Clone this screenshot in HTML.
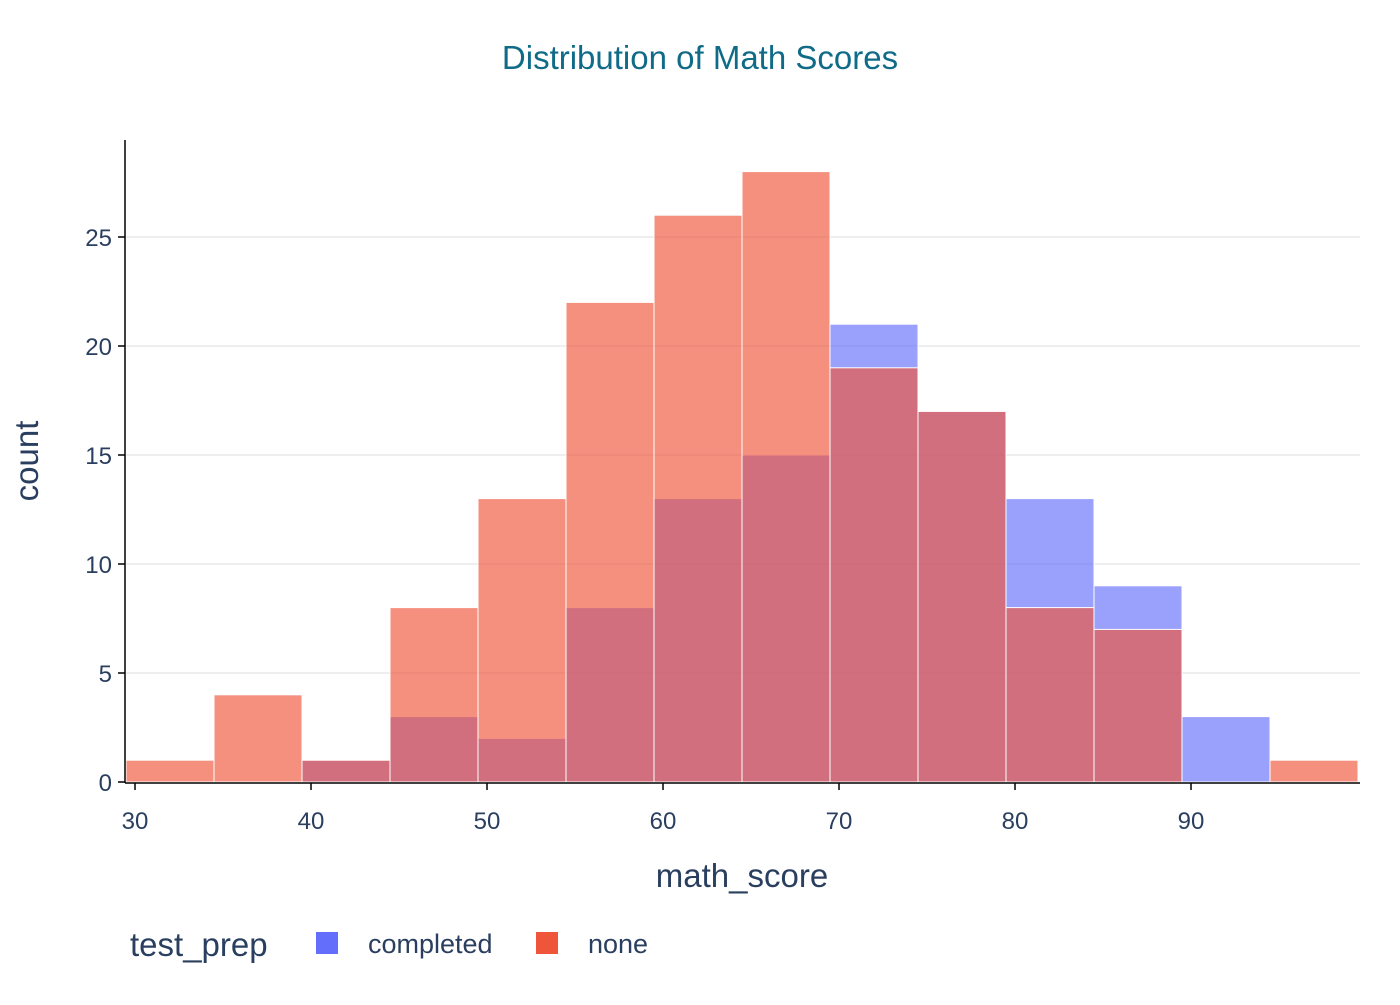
<!DOCTYPE html>
<html><head><meta charset="utf-8"><style>
html,body{margin:0;padding:0;background:#fff;}
svg text{font-family:"Liberation Sans",Arial,sans-serif;fill:#2a3f5f;}
</style></head><body>
<svg width="1400" height="1000" viewBox="0 0 1400 1000" xmlns="http://www.w3.org/2000/svg">
<rect width="1400" height="1000" fill="#fff"/>
<text x="700" y="69" text-anchor="middle" font-size="33" style="fill:#0f6b87">Distribution of Math Scores</text>
<g stroke="#e6e8ec" stroke-width="1.5">
<line x1="126" x2="1360" y1="673" y2="673"/>
<line x1="126" x2="1360" y1="564" y2="564"/>
<line x1="126" x2="1360" y1="455" y2="455"/>
<line x1="126" x2="1360" y1="346" y2="346"/>
<line x1="126" x2="1360" y1="237" y2="237"/>
</g>
<g id="bars" stroke="#fff" stroke-width="1"></g>
<line x1="125" x2="125" y1="140" y2="783" stroke="#000" stroke-width="1.5"/>
<line x1="125" x2="1360" y1="783" y2="783" stroke="#000" stroke-width="1.5"/>
<g stroke="#000" stroke-width="1.5">
<line x1="118" x2="125" y1="782" y2="782"/><line x1="118" x2="125" y1="673" y2="673"/><line x1="118" x2="125" y1="564" y2="564"/><line x1="118" x2="125" y1="455" y2="455"/><line x1="118" x2="125" y1="346" y2="346"/><line x1="118" x2="125" y1="237" y2="237"/>
<line x1="135" x2="135" y1="783" y2="790"/><line x1="311" x2="311" y1="783" y2="790"/><line x1="487" x2="487" y1="783" y2="790"/><line x1="663" x2="663" y1="783" y2="790"/><line x1="839" x2="839" y1="783" y2="790"/><line x1="1015" x2="1015" y1="783" y2="790"/><line x1="1191" x2="1191" y1="783" y2="790"/>
</g>
<g font-size="24" text-anchor="end">
<text x="112" y="791">0</text><text x="112" y="682">5</text><text x="112" y="573">10</text><text x="112" y="464">15</text><text x="112" y="355">20</text><text x="112" y="246">25</text>
</g>
<g font-size="24" text-anchor="middle">
<text x="135" y="829">30</text><text x="311" y="829">40</text><text x="487" y="829">50</text><text x="663" y="829">60</text><text x="839" y="829">70</text><text x="1015" y="829">80</text><text x="1191" y="829">90</text>
</g>
<text x="742" y="887" text-anchor="middle" font-size="33">math_score</text>
<text transform="translate(38,461) rotate(-90)" text-anchor="middle" font-size="33">count</text>
<text x="130" y="956" font-size="33">test_prep</text>
<rect x="316" y="932" width="22" height="22" fill="#636efa"/>
<text x="368" y="953" font-size="27">completed</text>
<rect x="536" y="932" width="22" height="22" fill="#EF553B"/>
<text x="588" y="953" font-size="27">none</text>
<script>
var g=document.getElementById('bars');
var comp=[0,0,1,3,2,8,13,15,21,17,13,9,3,0];
var none=[1,4,1,8,13,22,26,28,19,17,8,7,0,1];
function draw(arr,col){arr.forEach(function(v,i){if(!v)return;var x=126+i*88,h=v*21.8;
var r=document.createElementNS('http://www.w3.org/2000/svg','rect');
r.setAttribute('x',x);r.setAttribute('y',782-h);r.setAttribute('width',88);r.setAttribute('height',h);
r.setAttribute('fill',col);r.setAttribute('fill-opacity','0.65');g.appendChild(r);});}
draw(comp,'#636efa');draw(none,'#EF553B');
</script>
</svg>
</body></html>
